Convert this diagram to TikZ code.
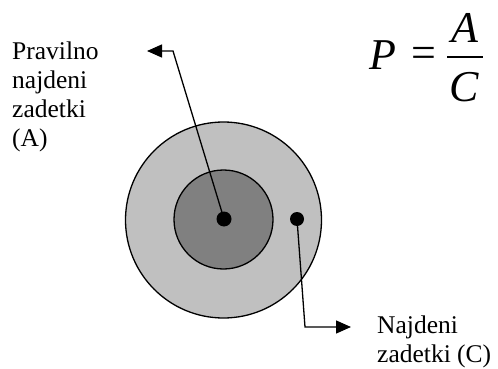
\documentclass[tikz,border=0pt]{standalone}
\usepackage{fontspec}
\setmainfont{Liberation Serif}
\usetikzlibrary{arrows.meta}
\begin{document}
\begin{tikzpicture}[x=1pt,y=-1pt,
  ring/.style={circle,draw=black,line width=1.3pt,inner sep=0pt},
  dotmark/.style={circle,fill=black,inner sep=0pt,minimum size=15pt},
  arr/.style={line width=1.3pt,-{Triangle[length=15pt,width=13pt]}},
  lbl/.style={font=\fontsize{25.5}{29}\selectfont,align=left,inner sep=0pt,anchor=north west},
  eqtxt/.style={font=\fontsize{44}{50}\selectfont,inner sep=0pt}]
\useasboundingbox (0,0) rectangle (498,369);
\node[ring,fill={rgb,255:red,192;green,192;blue,192},minimum size=196pt] (outer) at (223.5,220) {};
\node[ring,fill={rgb,255:red,128;green,128;blue,128},minimum size=99pt] (inner) at (223.5,219.5) {};
\node[dotmark] (d1) at (224,219) {};
\node[dotmark,minimum size=14pt] (d2) at (297,219) {};
\coordinate (c1) at (173,51);
\coordinate (t1) at (147,51);
\coordinate (c2) at (305,327);
\coordinate (t2) at (351,327);
\draw[arr] (d1.center) -- (c1) -- (t1);
\draw[arr] (d2.center) -- (c2) -- (t2);
\node[lbl] (la) at (12,41.5) {Pravilno\\najdeni\\zadetki\\(A)};
\node[lbl] (lc) at (377,315.5) {Najdeni\\zadetki (C)};
% formula P = A/C
\node[eqtxt,anchor=base west] (p) at (369,69.3) {\itshape P};
\node[eqtxt,anchor=center] (eq) at (423.5,57.2) {=};
\node[eqtxt,anchor=base] (num) at (465,42.7) {\itshape A};
\node[eqtxt,anchor=base] (den) at (464.5,101.2) {\itshape C};
\coordinate (bl) at (447,56.7);
\coordinate (br) at (483,56.7);
\draw[line width=1.8pt] (bl) -- (br);
\end{tikzpicture}
\end{document}
